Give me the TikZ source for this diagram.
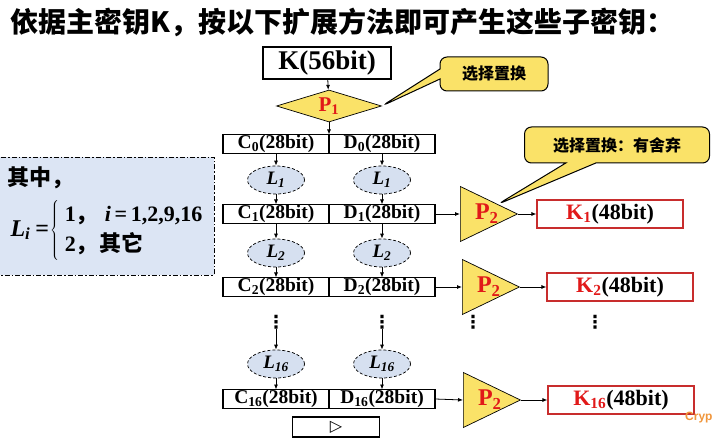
\documentclass[tikz,border=0pt]{standalone}
\usepackage{fontspec}
\setmainfont{Liberation Serif}
\setsansfont{Liberation Sans}
\newfontfamily\cjk{Noto Sans CJK SC}
\newfontfamily\symfont{DejaVu Sans}
\usetikzlibrary{arrows.meta,positioning,shapes.geometric,shapes.callouts,calc}

\definecolor{keyred}{RGB}{225,25,25}
\definecolor{permyellow}{RGB}{250,226,104}
\definecolor{rolblue}{RGB}{214,224,240}
\definecolor{noteblue}{RGB}{220,229,244}
\definecolor{boxred}{RGB}{200,45,45}
\definecolor{wmorange}{RGB}{240,150,60}

\newcommand{\zh}[1]{{\cjk\bfseries #1}}

\begin{document}
\begin{tikzpicture}[
  x=1pt, y=-1pt,
  keybox/.style={draw, line width=1.4pt, fill=white, minimum width=128pt, minimum height=32pt, inner sep=0pt, font=\fontsize{27}{30}\selectfont\bfseries},
  cell/.style={draw, line width=1.1pt, minimum width=106pt, minimum height=19pt, inner sep=0pt, outer sep=0pt, font=\fontsize{19.5}{19}\selectfont\bfseries},
  rol/.style={ellipse, draw, densely dashed, line width=0.7pt, fill=rolblue, minimum width=57pt, minimum height=28pt, inner sep=0pt, font=\fontsize{19}{20}\selectfont\bfseries\itshape},
  perm/.style={diamond, draw, line width=0.7pt, fill=permyellow, aspect=3.3, minimum width=105pt, minimum height=32pt, inner sep=0pt, text=keyred, font=\fontsize{21}{22}\selectfont\bfseries},
  ptri/.style={isosceles triangle, isosceles triangle stretches, draw, line width=0.7pt, fill=permyellow, minimum width=55pt, minimum height=57pt, inner sep=0pt},
  ptext/.style={text=keyred, inner sep=0pt, font=\fontsize{24}{26}\selectfont\bfseries},
  subkey/.style={draw=boxred, line width=1.2pt, minimum width=146pt, minimum height=28pt, inner sep=0pt, font=\fontsize{22}{24}\selectfont\bfseries},
  hint/.style={rectangle callout, draw, line width=1pt, fill=permyellow, rounded corners=7pt, inner sep=0pt, font=\fontsize{16}{18}\selectfont\cjk\bfseries},
  arrow/.style={-{Latex[length=5pt,width=4pt]}, line width=0.8pt},
  note/.style={draw, fill=noteblue, line width=0.8pt, dash pattern=on 5pt off 2pt on 1.5pt off 2pt, minimum width=220pt, minimum height=118pt},
  txt/.style={font=\fontsize{22}{30}\selectfont\bfseries},
  dotsnode/.style={font=\fontsize{18}{18}\selectfont\symfont\bfseries, inner sep=0pt}
]
\useasboundingbox (0,0) rectangle (714,443);

\node[anchor=west, font=\fontsize{28}{30}\selectfont\cjk\bfseries] (title) at (7,22)
  {依据主密钥K，按以下扩展方法即可产生这些子密钥：};

% key and first permutation
\node[keybox] (key) at (327,63) {K(56bit)};
\node[perm] (p1) at (329,106) {P\textsubscript{1}};
\node[hint, minimum width=108pt, minimum height=34pt, callout pointer width=10pt,
  callout absolute pointer={(p1.east)}] (hint1) at (494,74) {选择置换};

% C and D halves
\node[cell] (c0) at (276,144) {C\textsubscript{0}(28bit)};
\node[cell, right=0pt of c0] (d0) {D\textsubscript{0}(28bit)};
\node[cell] (c1) at (276,214) {C\textsubscript{1}(28bit)};
\node[cell, right=0pt of c1] (d1) {D\textsubscript{1}(28bit)};
\node[cell] (c2) at (276,287) {C\textsubscript{2}(28bit)};
\node[cell, right=0pt of c2] (d2) {D\textsubscript{2}(28bit)};
\node[cell] (c16) at (276,399) {C\textsubscript{16}(28bit)};
\node[cell, right=0pt of c16] (d16) {D\textsubscript{16}(28bit)};

% left shifts
\foreach \col/\x in {c/276, d/382} {
  \node[rol] (l\col1) at (\x,180) {L\textsubscript{1}};
  \node[rol] (l\col2) at (\x,253) {L\textsubscript{2}};
  \node[rol] (l\col16) at (\x,364) {L\textsubscript{16}};
  \node[dotsnode] (dots\col) at (\x,322) {⋮};
}
\node[dotsnode] (dotsp) at (473,322) {⋮};
\node[dotsnode] (dotsk) at (595,322) {⋮};

% second permutation and subkeys
\foreach \p/\x/\y in {p2a/460/214, p2b/462/287, p2c/463/400} {
  \node[ptri, anchor=west] (\p) at (\x,\y) {};
  \node[ptext] (\p-txt) at ($(\p.west)!0.46!(\p.apex)$) {P\textsubscript{2}};
}
\node[subkey] (k1) at (610,214) {\textcolor{keyred}{K\textsubscript{1}}(48bit)};
\node[subkey] (k2) at (620,287) {\textcolor{keyred}{K\textsubscript{2}}(48bit)};
\node[subkey] (k16) at (621,400) {\textcolor{keyred}{K\textsubscript{16}}(48bit)};
\node[hint, minimum width=185pt, minimum height=36pt, callout pointer width=30pt,
  callout absolute pointer={($(p2a.north)!0.5!(p2a.apex)$)}] (hint2) at (617,145) {选择置换：有舍弃};

% note on L_i
\node[note] (notebox) at (104,216) {};
\node[txt, anchor=north west] (qizhong) at (4,163) {\zh{其中，}};
\node[txt, anchor=west] (rule) at (7,231)
  {{\fontsize{24}{30}\selectfont\textit{L}\textsubscript{\textit{i}}\hspace{5pt}=}\hspace{1pt}$\left\{\begin{tabular}{@{\hspace{6pt}}l@{}}1\zh{，}\hspace{7pt}\textit{i}\,=\,1,2,9,16\\2\zh{，}\hspace{2pt}\zh{其它}\end{tabular}\right.$};

\node[draw, line width=1.5pt, minimum width=87pt, minimum height=20pt, inner sep=0pt,
  font=\fontsize{16}{16}\selectfont\symfont] (play) at (336,427) {▷};
\node[anchor=west, text=wmorange, inner sep=0pt, font=\fontsize{12}{12}\selectfont\sffamily\bfseries] (wm) at (685,418) {Cryp};

% connectors
\draw[arrow] (key) -- (p1);
\draw[arrow] (p1) -- (c0.north east);
\foreach \col in {c,d} {
  \draw[arrow] (\col0) -- (l\col1);
  \draw[arrow] (l\col1) -- (\col1);
  \draw[arrow] (\col1) -- (l\col2);
  \draw[arrow] (l\col2) -- (\col2);
  \draw[arrow] (dots\col) -- (l\col16);
  \draw[arrow] (l\col16) -- (\col16);
}
\foreach \r/\p in {1/p2a, 2/p2b, 16/p2c}
  \draw[arrow] (d\r.east) -- (\p.west);
\foreach \p/\k in {p2a/k1, p2b/k2, p2c/k16}
  \draw[arrow] (\p.apex) -- (\k.west);
\end{tikzpicture}
\end{document}
